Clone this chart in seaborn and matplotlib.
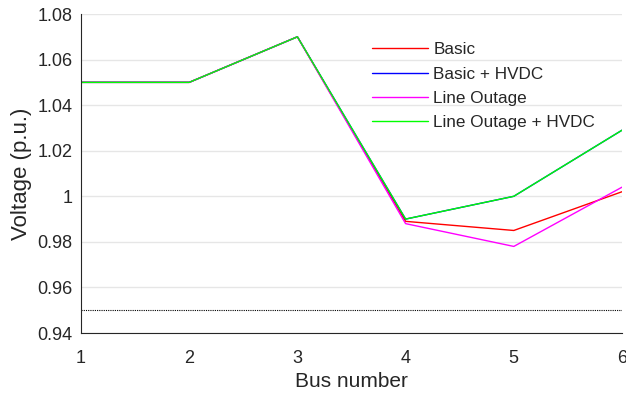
import matplotlib
matplotlib.use("Agg")
import matplotlib.pyplot as plt
import seaborn as sns
import pandas as pd
from matplotlib.ticker import FuncFormatter

buses = [1, 2, 3, 4, 5, 6]
basic = [1.05, 1.05, 1.07, 0.989, 0.985, 1.002]
basic_hvdc = [1.05, 1.05, 1.07, 0.990, 1.000, 1.029]
line_outage = [1.05, 1.05, 1.07, 0.988, 0.978, 1.004]
line_outage_hvdc = [1.05, 1.05, 1.07, 0.990, 1.000, 1.029]
series_names = ["Basic", "Basic + HVDC", "Line Outage", "Line Outage + HVDC"]
series_colors = ["#ff0000", "#0000ff", "#ff00ff", "#00ff00"]
limit_value = 0.95

sns.set_theme(style="white")
plt.rcParams['font.family'] = ['Liberation Sans', 'DejaVu Sans']

rows = []
for name, vals in zip(series_names, [basic, basic_hvdc, line_outage, line_outage_hvdc]):
    for b, v in zip(buses, vals):
        rows.append({"Bus": b, "Voltage": v, "Series": name})
df = pd.DataFrame(rows)

fig = plt.figure(figsize=(6.26, 3.98), dpi=100)
ax = fig.add_axes([0.1294, 0.1633, 0.8642, 0.8015])

ax.yaxis.grid(True, color="#e6e6e6", linewidth=1)
ax.set_axisbelow(True)

sns.lineplot(data=df, x="Bus", y="Voltage", hue="Series", hue_order=series_names,
             palette=dict(zip(series_names, series_colors)), linewidth=1, ax=ax,
             estimator=None, sort=False)
ax.axhline(limit_value, color="black", linestyle=(0, (1, 1)), linewidth=0.8)

ax.set_xlim(1, 6)
ax.set_ylim(0.94, 1.08)
ax.set_xticks(buses)
ax.set_yticks([0.94, 0.96, 0.98, 1.00, 1.02, 1.04, 1.06, 1.08])
ax.yaxis.set_major_formatter(FuncFormatter(lambda v, p: f"{v:g}"))
ax.tick_params(axis="both", direction="in", length=4, width=0.8, colors="#262626",
               labelsize=13)
ax.tick_params(axis="y", pad=6)
ax.tick_params(axis="x", pad=12)
for s in ["top", "right"]:
    ax.spines[s].set_visible(False)
for s in ["left", "bottom"]:
    ax.spines[s].set_color("#262626")
    ax.spines[s].set_linewidth(0.8)

ax.set_xlabel("Bus number", fontsize=15, color="#262626", labelpad=4)
ax.set_ylabel("Voltage (p.u.)", fontsize=16, color="#262626", labelpad=4)

leg = ax.legend(loc="upper left", bbox_to_anchor=(0.525, 0.933), frameon=False,
                fontsize=12.3, handlelength=3.3, handletextpad=0.3, labelspacing=0.55,
                borderaxespad=0)
for t in leg.get_texts():
    t.set_color("#262626")

fig.savefig("out.png", dpi=100)
